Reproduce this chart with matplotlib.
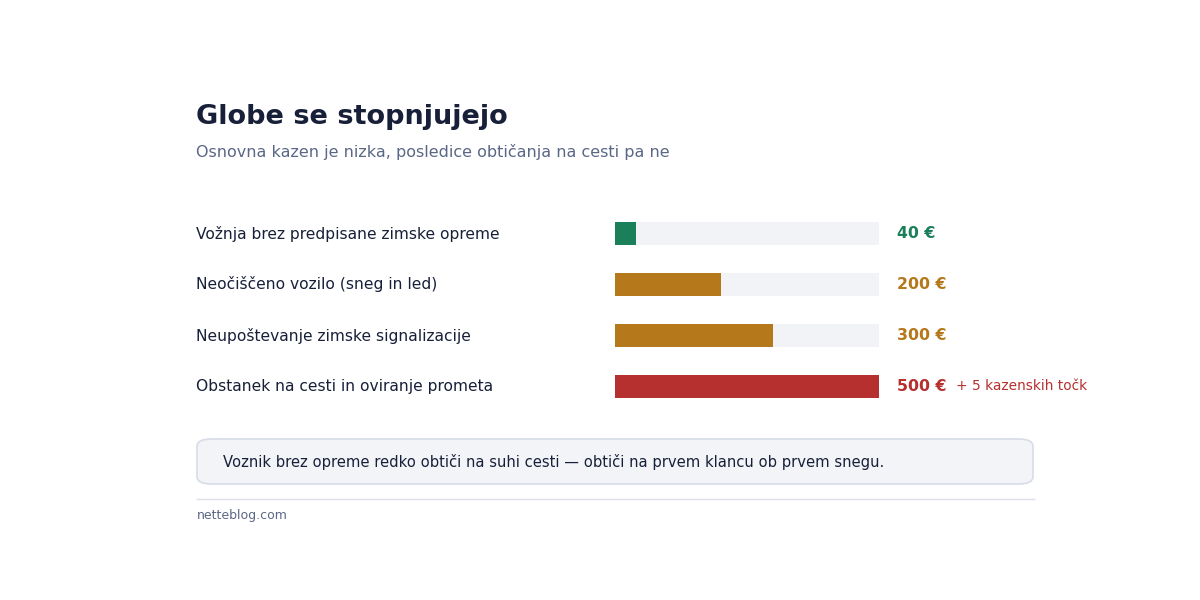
import matplotlib.pyplot as plt
import matplotlib.transforms as mtransforms
from matplotlib.patches import FancyBboxPatch

# data
labels = [
    "Vožnja brez predpisane zimske opreme",
    "Neočiščeno vozilo (sneg in led)",
    "Neupoštevanje zimske signalizacije",
    "Obstanek na cesti in oviranje prometa",
]
fines = [40, 200, 300, 500]
value_labels = ["40 €", "200 €", "300 €", "500 €"]
extras = ["", "", "", "+ 5 kazenskih točk"]
max_fine = 500

colors = ["#1b7f5a", "#b5781b", "#b5781b", "#b5302e"]
track = "#f2f3f7"
dark = "#172038"
muted = "#5a6785"

W, H = 1200, 600
fig = plt.figure(figsize=(12, 6), dpi=100)
fig.patch.set_facecolor("white")

def fx(px):
    return px / W

def fy(py):
    return 1 - py / H

fig.text(fx(196), fy(117), "Globe se stopnjujejo", fontsize=19.5, fontweight="bold",
         color=dark, va="center", ha="left")
fig.text(fx(196), fy(152), "Osnovna kazen je nizka, posledice obtičanja na cesti pa ne",
         fontsize=11.5, color=muted, va="center", ha="left")

# bar axes: rows centred at 233..386 px
row_gap = 51
top = 233.5 - row_gap / 2
bottom = 386.5 + row_gap / 2
ax = fig.add_axes([fx(615), fy(bottom), fx(879) - fx(615), (bottom - top) / H])
ax.set_xlim(0, max_fine)
ax.set_ylim(len(fines) - 0.5, -0.5)
ax.axis("off")

ys = list(range(len(fines)))
ax.barh(ys, [max_fine] * len(fines), height=0.46, color=track, zorder=1)
ax.barh(ys, fines, height=0.46, color=colors, zorder=2)

lab_tr = mtransforms.blended_transform_factory(fig.transFigure, ax.transData)
for i, y in enumerate(ys):
    fig.text(fx(196), y, labels[i], transform=lab_tr, fontsize=11.15, color=dark,
             va="center", ha="left")
    fig.text(fx(897), y, value_labels[i], transform=lab_tr, fontsize=11.3,
             fontweight="bold", color=colors[i], va="center", ha="left")
    if extras[i]:
        fig.text(fx(956), y, extras[i], transform=lab_tr, fontsize=9.9,
                 color=colors[i], va="center", ha="left")

# note box
box = FancyBboxPatch((fx(197), fy(484)), fx(1033) - fx(197), (484 - 439) / H,
                     boxstyle="round,pad=0,rounding_size=0.012",
                     transform=fig.transFigure, facecolor="#f3f4f8",
                     edgecolor="#d8dce8", linewidth=1.2)
fig.patches.append(box)
fig.text(fx(223), fy(462), "Voznik brez opreme redko obtiči na suhi cesti — obtiči na prvem klancu ob prvem snegu.",
         fontsize=10.63, color=dark, va="center", ha="left")

# footer
fig.add_artist(plt.Line2D([fx(197), fx(1034)], [fy(499), fy(499)],
                          transform=fig.transFigure, color="#dde0e6", linewidth=1))
fig.text(fx(197), fy(515), "netteblog.com", fontsize=9, color=muted,
         va="center", ha="left")

fig.savefig("out.png", dpi=100)
